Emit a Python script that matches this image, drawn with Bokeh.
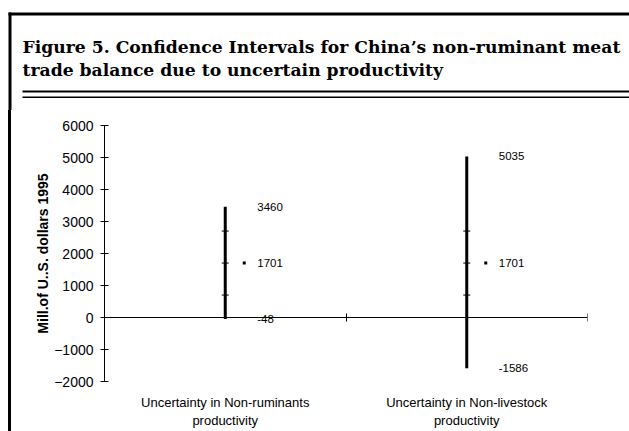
from bokeh.plotting import figure
from bokeh.layouts import column, row
from bokeh.models import Range1d, LinearAxis, FixedTicker, ColumnDataSource, Div
from bokeh.transform import dodge
from bokeh.core.properties import value
from bokeh.embed import file_html
from bokeh.resources import INLINE

# --- data -------------------------------------------------------------
categories = ["Uncertainty in Non-ruminants\nproductivity",
              "Uncertainty in Non-livestock\nproductivity"]
low = [-48, -1586]
high = [3460, 5035]
mid = [1701, 1701]
upper_mark = [2701, 2701]
lower_mark = [701, 701]
y_ticks = [-2000, -1000, 0, 1000, 2000, 3000, 4000, 5000, 6000]

title_lines = ["Figure 5. Confidence Intervals for China\u2019s non-ruminant meat",
               "trade balance due to uncertain productivity"]
y_label = "Mill.of U..S. dollars 1995"

# --- page geometry (pixels) ----------------------------------------------
W, H = 629, 431
HEAD_H = 110                 # heading band height
RULE_X, RULE_W = 8, 3        # left frame rule
STRIP_W = 12                 # strip carrying the left frame rule
FL, FR, FT, FB = 104, 587, 125, 381   # chart frame edges on the page

SANS = "Liberation Sans"
SERIF = "DejaVu Serif"

# --- heading band ---------------------------------------------------------
head = figure(width=W, height=HEAD_H, output_backend="svg",
              toolbar_location=None, min_border=0,
              x_range=Range1d(0, W), y_range=Range1d(HEAD_H, 0),
              x_axis_location=None, y_axis_location=None)
head.grid.visible = False
head.outline_line_color = None
head.background_fill_color = "white"
head.border_fill_color = "white"

head.quad(left=[RULE_X, RULE_X], right=[RULE_X + RULE_W, W], top=[12, 12],
          bottom=[HEAD_H, 15], fill_color="black", line_color=None)   # outer frame
head.quad(left=[22, 22], right=[W, W], top=[90, 96], bottom=[92, 97.5],
          fill_color="black", line_color=None)                         # double rule
head.text(x=[22, 22], y=[46, 69], text=title_lines,
          text_font=value(SERIF), text_font_style="bold",
          text_font_size="17.2px", text_color="black",
          text_baseline="alphabetic", text_align="left")

# --- left frame rule beside the chart -------------------------------------
strip = Div(text="", width=RULE_W, height=H - HEAD_H,
            margin=(0, STRIP_W - RULE_X - RULE_W, 0, RULE_X),
            styles={"background-color": "black"})

# --- chart ---------------------------------------------------------------
p = figure(width=W - STRIP_W, height=H - HEAD_H,
           output_backend="svg", toolbar_location=None,
           x_range=Range1d(0, len(categories)),
           y_range=Range1d(y_ticks[0], y_ticks[-1]),
           min_border_left=FL - STRIP_W, min_border_right=W - FR,
           min_border_top=FT - HEAD_H, min_border_bottom=H - FB,
           x_axis_location=None)
p.xgrid.visible = False
p.ygrid.visible = False
p.outline_line_color = None
p.background_fill_color = "white"
p.border_fill_color = "white"

# value axis
yax = p.yaxis[0]
yax.ticker = FixedTicker(ticks=y_ticks)
yax.axis_label = y_label
yax.axis_label_text_font = SANS
yax.axis_label_text_font_style = "bold"
yax.axis_label_text_font_size = "14px"
yax.axis_label_text_color = "black"
yax.axis_label_standoff = 0
yax.major_label_text_font = SANS
yax.major_label_text_font_size = "14px"
yax.major_label_text_color = "black"
yax.major_label_standoff = 7
yax.major_tick_in = 4
yax.major_tick_out = 4
yax.minor_tick_line_color = None
yax.axis_line_color = "black"
yax.major_tick_line_color = "black"

# category baseline drawn along zero, ticks between categories (no labels)
zero_axis = LinearAxis(fixed_location=0,
                       ticker=FixedTicker(ticks=list(range(len(categories) + 1))),
                       major_tick_in=4, major_tick_out=4,
                       minor_tick_line_color=None,
                       major_label_text_color=None,
                       major_label_text_font_size="1px",
                       major_label_standoff=0,
                       axis_line_color="black", major_tick_line_color="black")
p.add_layout(zero_axis, "below")

# category names under the frame
xs = [i + 0.5 for i in range(len(categories))]
cat_axis = LinearAxis(ticker=FixedTicker(ticks=xs),
                      major_label_overrides={x: c for x, c in zip(xs, categories)},
                      axis_line_color=None, major_tick_line_color=None,
                      minor_tick_line_color=None,
                      major_tick_in=0, major_tick_out=0,
                      major_label_standoff=13,
                      major_label_text_font=SANS,
                      major_label_text_font_size="13px",
                      major_label_text_color="black")
p.add_layout(cat_axis, "below")

# --- intervals ------------------------------------------------------------
src = ColumnDataSource(dict(
    x=xs, low=low, high=high, mid=mid, up=upper_mark, lo=lower_mark,
    low_txt=[str(v) for v in low], high_txt=[str(v) for v in high],
    mid_txt=[str(v) for v in mid]))

p.segment(x0="x", y0="low", x1="x", y1="high", source=src,
          line_color="black", line_width=3)
for col in ("up", "lo", "mid"):
    p.scatter(x="x", y=col, source=src, marker="dash", size=7,
              line_color="black", line_width=1)

unit_px = (FR - FL) / len(categories)
p.scatter(x=dodge("x", 19 / unit_px), y="mid", source=src, marker="square",
          size=3, fill_color="black", line_color=None)

for txt, ycol in (("high_txt", "high"), ("mid_txt", "mid"), ("low_txt", "low")):
    p.text(x="x", y=ycol, text=txt, source=src, x_offset=32,
           text_baseline="middle", text_align="left",
           text_font_size="11.5px", text_color="black",
           text_font=value(SANS))

page = column(head, row(strip, p, spacing=0), spacing=0)

open("out.html", "w").write(file_html(page, INLINE))
